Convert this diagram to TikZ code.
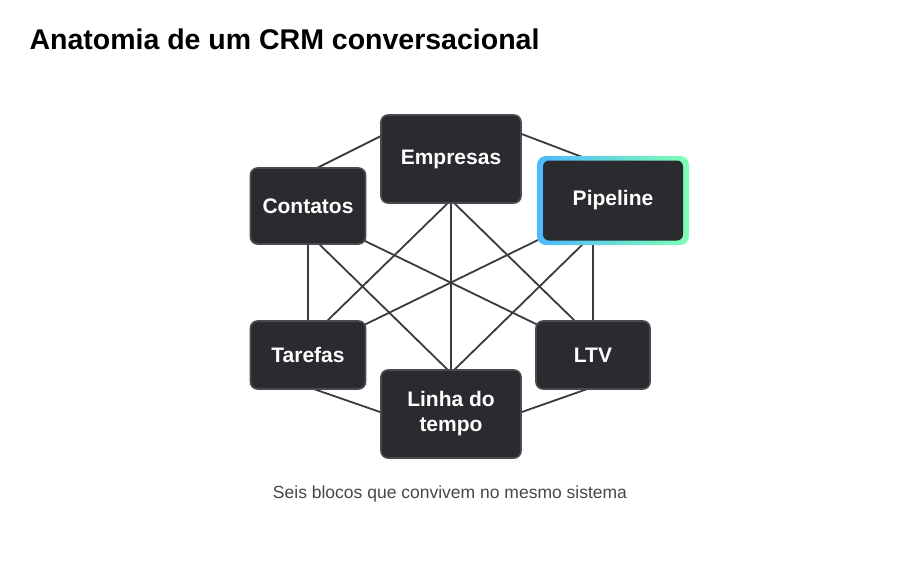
\documentclass[tikz,border=0pt]{standalone}
\usepackage{fontspec}
\setmainfont{Liberation Sans}
\definecolor{nfill}{HTML}{2A2B2F}
\definecolor{nbord}{HTML}{4A4B50}
\definecolor{edge}{HTML}{3A3B3F}
\begin{document}
\begin{tikzpicture}[x=1pt,y=-1pt,
  blk/.style={draw=nbord,line width=1.6pt,fill=nfill,rounded corners=7pt,text=white,font=\bfseries\fontsize{21}{24}\selectfont,align=center,inner sep=0pt},
  con/.style={draw=edge,line width=1.8pt}]
\useasboundingbox[fill=white] (0,0) rectangle (900,560);
\node[anchor=west,font=\bfseries\fontsize{28.5}{32}\selectfont] (title) at (26,39) {Anatomia de um CRM conversacional};
\node[font=\fontsize{17.5}{20}\selectfont,text=black!72] (cap) at (450,494) {Seis blocos que convivem no mesmo sistema};
% edge anchor points
\coordinate (eb) at (451,200);  % Empresas bottom
\coordinate (el) at (383,135);  % Empresas left
\coordinate (er) at (519,133);  % Empresas right
\coordinate (ct) at (313,170);  % Contatos top
\coordinate (cb) at (308,242);
\coordinate (cbl) at (317,242);
\coordinate (cbr) at (363,240);
\coordinate (pt) at (590,160);
\coordinate (pb) at (593,242);
\coordinate (pbl) at (538,240);
\coordinate (pbc) at (585,242);
\coordinate (tt) at (308,323);
\coordinate (ttr) at (325,323);
\coordinate (tr) at (364,325);
\coordinate (tb) at (308,387);
\coordinate (lt) at (593,323);
\coordinate (ltl) at (577,323);
\coordinate (ll) at (538,325);
\coordinate (lb) at (593,387);
\coordinate (nt) at (451,373);
\coordinate (nl) at (383,413);
\coordinate (nr) at (519,413);
\foreach \a/\b in {ct/el,er/pt,cb/tt,pb/lt,tb/nl,lb/nr,eb/ttr,eb/nt,eb/ltl,cbl/nt,cbr/ll,pbl/tr,pbc/nt}
  \draw[con] (\a) -- (\b);
\node[blk,minimum width=140pt,minimum height=88pt] (emp) at (451,159) {Empresas};
\node[blk,minimum width=115pt,minimum height=76pt] (cont) at (308,206) {Contatos};
\node[blk,minimum width=115pt,minimum height=68pt] (tar) at (308,355) {Tarefas};
\node[blk,minimum width=114pt,minimum height=68pt] (ltv) at (593,355) {LTV};
\node[blk,minimum width=140pt,minimum height=88pt] (lin) at (451,414) {Linha do\\[1pt]tempo};
\shade[left color=cyan!60!blue!70,right color=green!60!cyan!50,rounded corners=9pt] (537,156) rectangle (689,245);
\node[blk,draw=none,minimum width=140pt,minimum height=80pt,rounded corners=6pt] (pip) at (613,200.5) {Pipeline};
\end{tikzpicture}
\end{document}
